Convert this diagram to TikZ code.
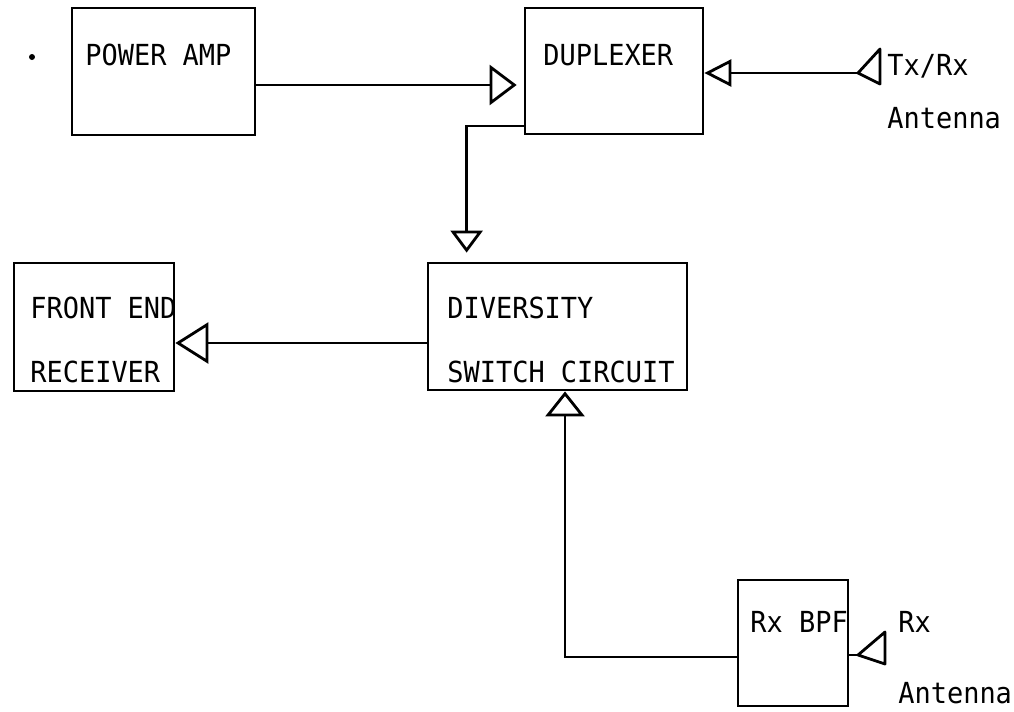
\documentclass[tikz,border=0pt]{standalone}
\usepackage{fontspec}
\newfontfamily\monofnt[FakeStretch=0.93]{DejaVu Sans Mono}
\usetikzlibrary{arrows.meta,calc}
\tikzset{
  box/.style 2 args={draw, rectangle, minimum width=#1, minimum height=#2, inner sep=0pt, line width=1.6pt},
  lbl/.style={font=\monofnt\fontsize{16.5}{19}\selectfont, anchor=base west, inner sep=0pt},
  wire/.style={line width=1.6pt},
  sig/.style 2 args={wire, -{Triangle[fill=white, length=#1, width=#2, line width=1.6pt]}},
  antenna/.style={line width=1.6pt, line join=round}
}
\begin{document}
\begin{tikzpicture}[x=0.02cm, y=-0.02cm]
\fill[white] (0,0) rectangle (1014,711);

% blocks
\node[box={3.66cm}{2.54cm}] (pa)  at (163.5,71.5) {};
\node[box={3.56cm}{2.52cm}] (dup) at (614,71) {};
\node[box={3.2cm}{2.56cm}]  (fe)  at (94,327) {};
\node[box={5.18cm}{2.54cm}] (div) at (557.5,326.5) {};
\node[box={2.2cm}{2.52cm}]  (bpf) at (793,643) {};

% labels
\node[lbl] (tpa)  at (85,65)   {POWER AMP};
\node[lbl] (tdup) at (543,65)  {DUPLEXER};
\node[lbl] (ttx)  at (887,75)  {Tx/Rx};
\node[lbl] (tan1) at (887,128) {Antenna};
\node[lbl] (tfe1) at (30,318)  {FRONT END};
\node[lbl] (tfe2) at (30,382)  {RECEIVER};
\node[lbl] (tdv1) at (447,318) {DIVERSITY};
\node[lbl] (tdv2) at (447,382) {SWITCH CIRCUIT};
\node[lbl] (tbpf) at (750,632) {Rx BPF};
\node[lbl] (trx)  at (898,632) {Rx};
\node[lbl] (tan2) at (898,703) {Antenna};

% stray dot
\fill (32,57) circle (0.06cm);

% antennas
\coordinate (ant1) at (858,73);
\draw[antenna] (ant1) -- (880,49) -- (880,84) -- cycle;
\coordinate (ant2) at (858,655);
\draw[antenna] (ant2) -- (885,632) -- (885,664) -- cycle;

% connectors
\draw[sig={0.54cm}{0.8cm}] (pa.east |- 0,85) -- ($(dup.west |- 0,85)+(-7,0)$);
\draw[sig={0.54cm}{0.54cm}] (ant1) -- (dup.east |- ant1);
\draw[sig={0.44cm}{0.64cm}] (dup.west |- 0,126) -| ($(div.north west)+(40,-9)$);
\draw[sig={0.66cm}{0.82cm}] (div.west |- 0,343) -- (fe.east |- 0,343);
\draw[sig={0.5cm}{0.78cm}] (bpf.west |- 0,657) -| (div.south -| 565,0);
\draw[wire] (bpf.east |- ant2) -- (ant2);
\end{tikzpicture}
\end{document}
